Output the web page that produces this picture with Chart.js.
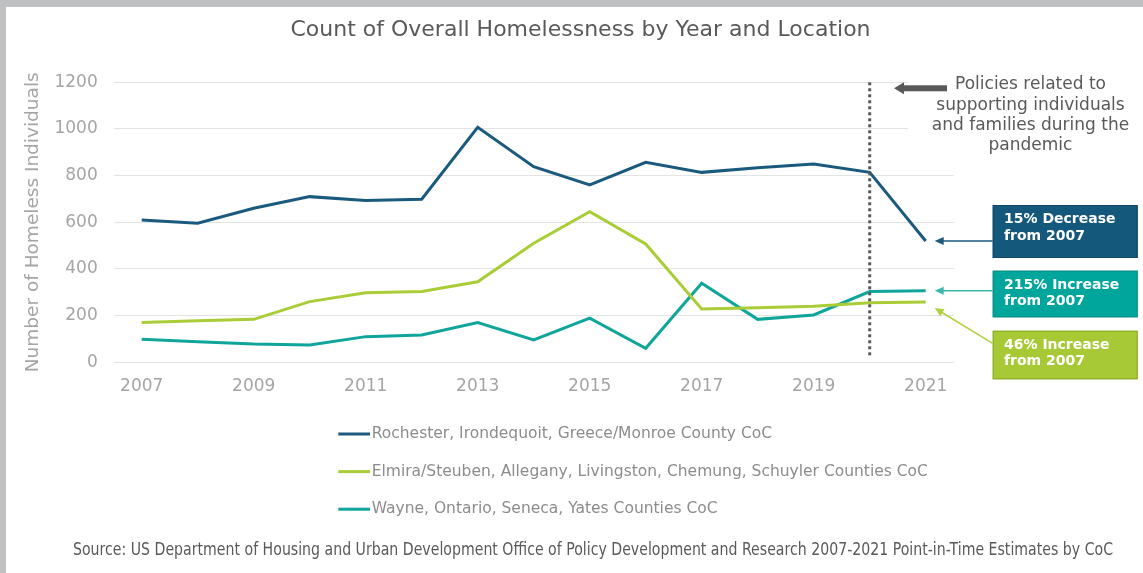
<!DOCTYPE html>
<html>
<head>
<meta charset="utf-8">
<script src="https://cdn.jsdelivr.net/npm/chart.js@4.4.1/dist/chart.umd.min.js"></script>
<style>
  html, body { margin: 0; padding: 0; background: #bfc0c2; }
  #wrap { position: absolute; left: 6px; top: 7px; width: 1137px; height: 566px; background: #fff; }
</style>
</head>
<body>
<div id="wrap"><canvas id="myChart"></canvas></div>
<script>
// years on the category axis
var years = ['2007', '2008', '2009', '2010', '2011', '2012', '2013', '2014',
             '2015', '2016', '2017', '2018', '2019', '2020', '2021'];

// counts
var rochester = [610, 596, 660, 710, 693, 699, 1007, 838, 760, 857, 814, 834, 850, 814, 520];
var elmira    = [171, 178, 184, 260, 298, 303, 345, 510, 645, 507, 228, 234, 240, 255, 258];
var wayne     = [99, 88, 78, 74, 110, 117, 170, 96, 189, 60, 339, 184, 203, 303, 307];

var seriesNames = [
    'Rochester, Irondequoit, Greece/Monroe County CoC',
    'Elmira/Steuben, Allegany, Livingston, Chemung, Schuyler Counties CoC',
    'Wayne, Ontario, Seneca, Yates Counties CoC'
];
var seriesColors = ['#1a5a7e', '#a9cd36', '#10a59b'];

var policyYear = '2020';
var policyNote = ['Policies related to', 'supporting individuals', 'and families during the', 'pandemic'];
var changeNotes = [
    ['15% Decrease', 'from 2007'],
    ['215% Increase', 'from 2007'],
    ['46% Increase', 'from 2007']
];
var sourceNote = 'Source: US Department of Housing and Urban Development Office of Policy Development and Research 2007-2021 Point-in-Time Estimates by CoC';

var FONT = "'DejaVu Sans', Verdana, sans-serif";

function arrowHead(ctx, x, y, angle, len, half) {
    ctx.beginPath();
    ctx.moveTo(x, y);
    ctx.lineTo(x + Math.cos(angle) * len - Math.sin(angle) * half, y + Math.sin(angle) * len + Math.cos(angle) * half);
    ctx.lineTo(x + Math.cos(angle) * len + Math.sin(angle) * half, y + Math.sin(angle) * len - Math.cos(angle) * half);
    ctx.closePath();
    ctx.fill();
}

// dotted policy line, notes, boxes, arrows, stacked legend and source line
var extras = {
    id: 'extras',
    afterDatasetsDraw: function(chart) {
        var ctx = chart.ctx;
        var xs = chart.scales.x, ys = chart.scales.y;
        var area = chart.chartArea;
        var toFont = Chart.helpers.toFont;
        ctx.save();

        // dotted vertical line
        var px = xs.getPixelForValue(years.indexOf(policyYear));
        ctx.strokeStyle = '#595959';
        ctx.lineWidth = 3;
        ctx.setLineDash([3, 3]);
        ctx.beginPath();
        ctx.moveTo(px, area.top);
        ctx.lineTo(px, area.bottom - 6);
        ctx.stroke();
        ctx.setLineDash([]);

        // note with white background
        ctx.fillStyle = '#fff';
        ctx.fillRect(902, 62, 235, 90);
        ctx.fillStyle = '#595959';
        ctx.fillRect(897, 78.3, 44, 6);
        arrowHead(ctx, 888, 81.3, 0, 10, 6);
        ctx.font = toFont({family: FONT, size: 17}).string;
        ctx.textAlign = 'center';
        ctx.textBaseline = 'middle';
        policyNote.forEach(function(t, i) {
            ctx.fillText(t, 1024.5, 78 + i * 20.3);
        });

        // change boxes
        var boxes = [
            {top: 198, h: 53, fill: '#14587c', edge: '#0f4866', arrow: '#1a5a7e'},
            {top: 263.7, h: 46.6, fill: '#00a69c', edge: '#0b8c84', arrow: '#3bb7b0'},
            {top: 323.7, h: 48.6, fill: '#a8c936', edge: '#8aa82a', arrow: '#b0d040'}
        ];
        var sets = [rochester, wayne, elmira];
        var last = years.length - 1;
        boxes.forEach(function(b, i) {
            ctx.fillStyle = b.fill;
            ctx.fillRect(986.7, b.top, 145, b.h);
            ctx.strokeStyle = b.edge;
            ctx.lineWidth = 1;
            ctx.strokeRect(986.7 + 0.5, b.top + 0.5, 144, b.h - 1);
            ctx.fillStyle = '#fff';
            ctx.font = toFont({family: FONT, size: 14, weight: 'bold'}).string;
            ctx.textAlign = 'left';
            ctx.textBaseline = 'middle';
            ctx.fillText(changeNotes[i][0], 998, b.top + 14.3);
            ctx.fillText(changeNotes[i][1], 998, b.top + 31);

            // arrow to the 2021 point
            var tx = xs.getPixelForValue(last) + 9;
            var ty = ys.getPixelForValue(sets[i][last]) + (i === 2 ? 6 : 0);
            var sx = 986.7;
            var sy = i === 2 ? 336.3 : ty;
            ctx.strokeStyle = b.arrow;
            ctx.fillStyle = b.arrow;
            ctx.lineWidth = 1.5;
            ctx.beginPath();
            ctx.moveTo(sx, sy);
            ctx.lineTo(tx + 6, ty + (sy - ty) * 6 / (sx - tx));
            ctx.stroke();
            arrowHead(ctx, tx, ty, Math.atan2(sy - ty, sx - tx), 9, 4);
        });

        // legend, one row per series
        ctx.font = toFont({family: FONT, size: 15.5}).string;
        ctx.textAlign = 'left';
        ctx.textBaseline = 'middle';
        chart.data.datasets.forEach(function(ds, i) {
            var y = 427 + i * 37.6;
            ctx.strokeStyle = ds.borderColor;
            ctx.lineWidth = 3;
            ctx.beginPath();
            ctx.moveTo(332.3, y);
            ctx.lineTo(364, y);
            ctx.stroke();
            ctx.fillStyle = '#8c8c8c';
            ctx.fillText(ds.label, 365.7, y);
        });

        // source line, squeezed to the narrow width of the original
        ctx.font = toFont({family: FONT, size: 17.5}).string;
        ctx.textAlign = 'center';
        ctx.fillStyle = '#595959';
        ctx.fillText(sourceNote, 587, 543, 1040);

        ctx.restore();
    }
};

var ctx = document.getElementById('myChart').getContext('2d');
var chart = new Chart(ctx, {
    type: 'line',
    data: {
        labels: years,
        datasets: [{
            label: seriesNames[0],
            data: rochester,
            borderColor: seriesColors[0],
            backgroundColor: seriesColors[0]
        }, {
            label: seriesNames[1],
            data: elmira,
            borderColor: seriesColors[1],
            backgroundColor: seriesColors[1]
        }, {
            label: seriesNames[2],
            data: wayne,
            borderColor: seriesColors[2],
            backgroundColor: seriesColors[2]
        }]
    },
    options: {
        responsive: true,
        maintainAspectRatio: false,
        animation: false,
        layout: {
            padding: { left: 12, right: 0, top: 0, bottom: 176.7 }
        },
        elements: {
            line: { borderWidth: 3, tension: 0 },
            point: { radius: 0, hoverRadius: 0 }
        },
        scales: {
            x: {
                type: 'category',
                offset: true,
                grid: { display: false, drawTicks: false },
                border: { display: false },
                ticks: {
                    autoSkip: false,
                    maxRotation: 0,
                    padding: 14,
                    color: '#a5a5a5',
                    font: { family: FONT, size: 17 },
                    callback: function(v, i) {
                        return i % 2 === 0 ? years[i] : '';
                    }
                },
                afterFit: function(scale) { scale.height = 34; }
            },
            y: {
                min: 0,
                max: 1200,
                grid: { color: '#e3e3e3', lineWidth: 1, drawTicks: false },
                border: { display: false },
                ticks: {
                    stepSize: 200,
                    padding: 16,
                    color: '#a5a5a5',
                    font: { family: FONT, size: 17 },
                    callback: function(v) { return String(v); }
                },
                title: {
                    display: true,
                    text: 'Number of Homeless Individuals',
                    color: '#a5a5a5',
                    font: { family: FONT, size: 18.5 },
                    padding: { top: 4, bottom: 0 }
                },
                afterFit: function(scale) { scale.width = 95.7; }
            },
            // empty right-hand axis that reserves room for the notes
            side: {
                type: 'linear',
                position: 'right',
                display: true,
                grid: { display: false, drawTicks: false },
                border: { display: false },
                ticks: { display: false },
                afterFit: function(scale) { scale.width = 189.3; }
            }
        },
        plugins: {
            legend: { display: false },
            tooltip: { enabled: false },
            title: {
                display: true,
                text: 'Count of Overall Homelessness by Year and Location',
                color: '#595959',
                font: { family: FONT, size: 22, weight: 'normal' },
                padding: { top: 10, bottom: 38.9 }
            }
        }
    },
    plugins: [extras]
});
</script>
</body>
</html>
